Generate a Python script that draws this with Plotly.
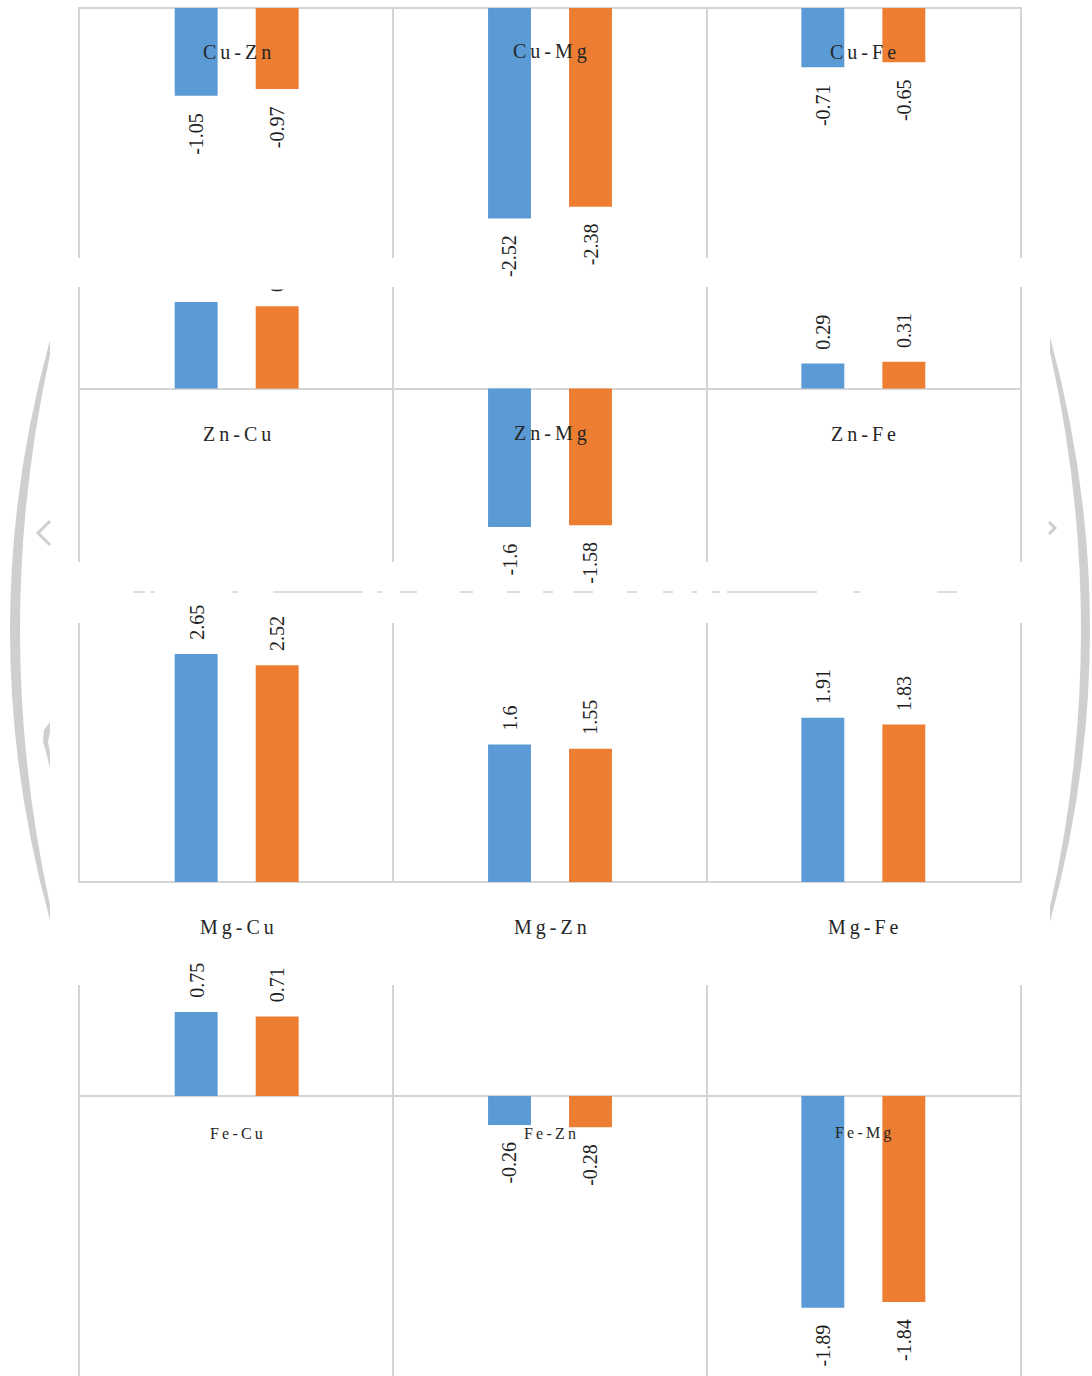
import plotly.graph_objects as go

# ---------------- data ----------------
cu_pairs = ["Cu-Zn", "Cu-Mg", "Cu-Fe"]
cu_blue = [-1.05, -2.52, -0.71]
cu_orange = [-0.97, -2.38, -0.65]

zn_pairs = ["Zn-Cu", "Zn-Mg", "Zn-Fe"]
zn_blue = [1.0, -1.6, 0.29]
zn_orange = [0.95, -1.58, 0.31]

mg_pairs = ["Mg-Cu", "Mg-Zn", "Mg-Fe"]
mg_blue = [2.65, 1.6, 1.91]
mg_orange = [2.52, 1.55, 1.83]

fe_pairs = ["Fe-Cu", "Fe-Zn", "Fe-Mg"]
fe_blue = [0.75, -0.26, -1.89]
fe_orange = [0.71, -0.28, -1.84]

series_names = ["Series 1", "Series 2"]

# ---------------- style / layout ----------------
BLUE = "#5B9BD5"
ORANGE = "#ED7D31"
GRID = "#d5d5d5"
SERIF = "Liberation Serif, Times New Roman, serif"
W, H = 1092, 1376
X0, X1 = 80, 1020

rows = [
    dict(cats=cu_pairs, a=cu_blue, b=cu_orange, top=7, bottom=258, base=8, scale=83.5, lab_off=44, lab_size=20),
    dict(cats=zn_pairs, a=zn_blue, b=zn_orange, top=287, bottom=562, base=388.5, scale=86.5, lab_off=45, lab_size=20),
    dict(cats=mg_pairs, a=mg_blue, b=mg_orange, top=623, bottom=883, base=882, scale=86, lab_off=45, lab_size=20),
    dict(cats=fe_pairs, a=fe_blue, b=fe_orange, top=985, bottom=1376, base=1096, scale=112, lab_off=37, lab_size=16),
]


def px(x):
    return x / W


def py(y):
    return 1 - y / H


def spaced(label):
    # the source renders category names with wide letter spacing
    return "\u2009".join(label)


fig = go.Figure()
layout = {}
annotations = []

for i, r in enumerate(rows, start=1):
    sfx = "" if i == 1 else str(i)
    xr, yr = "x" + sfx, "y" + sfx
    for vals, color, name, shift in ((r["a"], BLUE, series_names[0], -40.5),
                                      (r["b"], ORANGE, series_names[1], 40.5)):
        fig.add_trace(go.Bar(
            x=r["cats"], y=vals, xaxis=xr, yaxis=yr, name=name,
            marker=dict(color=color, line=dict(width=0)),
            showlegend=False,
        ))
        for c, v in zip(r["cats"], vals):
            annotations.append(dict(
                x=c, y=v, xref=xr, yref=yr, text=f"{v:g}", showarrow=False,
                textangle=-90, xshift=shift,
                yanchor="bottom" if v > 0 else "top",
                yshift=12 if v > 0 else -15,
                font=dict(family=SERIF, size=20, color="#1f1f1f"),
            ))
    for c in r["cats"]:
        annotations.append(dict(
            x=c, y=0, xref=xr, yref=yr, text=spaced(c), showarrow=False,
            yanchor="middle", yshift=-r["lab_off"],
            font=dict(family=SERIF, size=r["lab_size"], color="#262626"),
        ))
    layout["xaxis" + sfx] = dict(
        domain=[px(X0), px(X1)], anchor=yr, type="category",
        range=[-0.5, 2.5], tickson="boundaries", showgrid=True,
        gridcolor=GRID, gridwidth=2, showticklabels=False, ticks="",
        zeroline=False, showline=False, fixedrange=True,
    )
    layout["yaxis" + sfx] = dict(
        domain=[py(r["bottom"]), py(r["top"])], anchor=xr,
        range=[-(r["bottom"] - r["base"]) / r["scale"], (r["base"] - r["top"]) / r["scale"]],
        showgrid=False, zeroline=True, zerolinecolor=GRID, zerolinewidth=2,
        showline=True, mirror=True, linecolor=GRID, linewidth=2,
        showticklabels=False, ticks="", fixedrange=True,
    )

# white band hiding the cropped Zn-Cu value labels (cut off in the reference)
annotations.append(dict(
    xref="paper", yref="paper", x=px(240), y=py(259), xanchor="center", yanchor="middle",
    text=" ", showarrow=False, width=180, height=60, bgcolor="white", borderpad=0,
))

# ---------------- decorative background (screen frame arcs) ----------------
ARC = "#cfcfcf"


def path(cmds):
    out = []
    for c in cmds:
        if isinstance(c, str):
            out.append(c)
        else:
            out.append(f"{px(c[0]):.5f},{py(c[1]):.5f}")
    return " ".join(out)


shapes = [
    dict(type="path", xref="paper", yref="paper", layer="below",
         path=path(["M", (50, 340), "Q", (-30, 630), (50, 920), "L", (50, 905),
                    "Q", (-10, 630), (50, 355), "Z"]),
         fillcolor=ARC, line=dict(width=0)),
    dict(type="path", xref="paper", yref="paper", layer="below",
         path=path(["M", (1050, 337), "Q", (1130, 630), (1050, 922), "L", (1050, 907),
                    "Q", (1112, 630), (1050, 352), "Z"]),
         fillcolor=ARC, line=dict(width=0)),
    dict(type="path", xref="paper", yref="paper", layer="below",
         path=path(["M", (50, 521), "L", (38, 533), "L", (50, 545)]),
         line=dict(color=ARC, width=3)),
    dict(type="path", xref="paper", yref="paper", layer="below",
         path=path(["M", (1049, 522), "L", (1055, 528), "L", (1049, 534)]),
         line=dict(color=ARC, width=3)),
    dict(type="path", xref="paper", yref="paper", layer="below",
         path=path(["M", (50, 722), "L", (44, 730), "L", (43, 742), "L", (46, 752),
                    "L", (50, 768), "L", (50, 752), "L", (48, 742), "L", (50, 732), "Z"]),
         fillcolor=ARC, line=dict(width=0)),
]

for a, b in [(133, 145), (150, 155), (232, 238), (273, 363), (377, 382), (400, 417),
             (460, 473), (507, 520), (543, 553), (573, 593), (627, 637), (663, 673),
             (692, 697), (712, 720), (727, 817), (853, 860), (937, 957)]:
    shapes.append(dict(type="line", xref="paper", yref="paper", layer="below",
                       x0=px(a), x1=px(b), y0=py(592), y1=py(592),
                       line=dict(color="#dedede", width=2)))

fig.update_layout(
    width=W, height=H, margin=dict(l=0, r=0, t=0, b=0),
    paper_bgcolor="white", plot_bgcolor="rgba(0,0,0,0)",
    barmode="group", bargap=0.483, bargroupgap=0.47,
    annotations=annotations, shapes=shapes, showlegend=False,
    **layout,
)

fig.write_html(
    "out.html",
    config={"displayModeBar": False},
    post_script="document.body.style.margin='0';document.body.style.overflow='hidden';",
)
